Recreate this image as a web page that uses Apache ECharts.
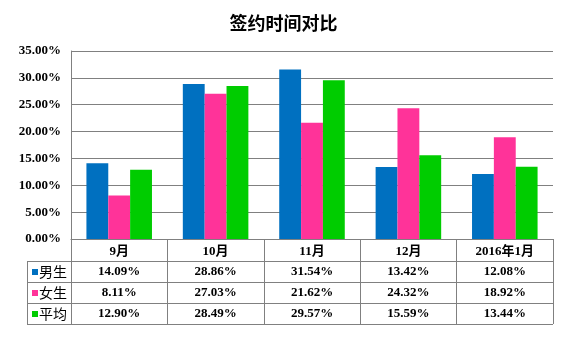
<!DOCTYPE html>
<html>
<head>
<meta charset="utf-8">
<script src="https://cdn.jsdelivr.net/npm/echarts@6/dist/echarts.min.js"></script>
<style>
  html, body { margin: 0; padding: 0; background: #fff; }
  #chart { width: 567px; height: 341px; }
</style>
</head>
<body>
<div id="chart"></div>
<script>
// Signing time by month, percentage per group
const categories = ['9月', '10月', '11月', '12月', '2016年1月'];
const seriesNames = ['男生', '女生', '平均'];
const male = [14.09, 28.86, 31.54, 13.42, 12.08];
const female = [8.11, 27.03, 21.62, 24.32, 18.92];
const average = [12.90, 28.49, 29.57, 15.59, 13.44];
const colors = ['#0070C0', '#FF3399', '#00CC00'];
const yTicks = { min: 0, max: 35, interval: 5 };

const seriesData = [male, female, average];
const numFont = '"Liberation Serif", "Times New Roman", "Noto Sans CJK SC", serif';
const gridColor = '#808080';
const fmt = v => v.toFixed(2) + '%';

const chart = echarts.init(document.getElementById('chart'));

const grid = { left: 71, right: 14, top: 51, bottom: 102 };
const headerH = 22;
const rowH = 21;

chart.setOption({
  animation: false,
  backgroundColor: '#fff',
  title: {
    text: '签约时间对比',
    left: 'center',
    top: 9,
    textStyle: { fontFamily: '"Noto Sans CJK SC", sans-serif', fontSize: 18, fontWeight: 'bold', color: '#000' }
  },
  grid: grid,
  xAxis: {
    type: 'category',
    data: categories,
    axisLine: { lineStyle: { color: gridColor, width: 1 } },
    axisTick: { show: true, length: headerH + rowH * 3, interval: 0, lineStyle: { color: gridColor } },
    axisLabel: {
      interval: 0,
      margin: 6,
      fontFamily: numFont, fontSize: 13, fontWeight: 'bold', color: '#000'
    }
  },
  yAxis: {
    type: 'value',
    min: yTicks.min, max: yTicks.max, interval: yTicks.interval,
    axisLine: { show: true, lineStyle: { color: gridColor, width: 1 } },
    axisTick: { show: false },
    splitLine: { lineStyle: { color: gridColor, width: 1 } },
    axisLabel: {
      margin: 10,
      formatter: v => fmt(v),
      fontFamily: numFont, fontSize: 13, fontWeight: 'bold', color: '#000'
    }
  },
  series: seriesNames.map((name, i) => ({
    name: name,
    type: 'bar',
    data: seriesData[i],
    itemStyle: { color: colors[i] },
    barGap: '0%',
    barCategoryGap: '32%'
  }))
});

// Data table under the category axis
function drawTable() {
  const left = grid.left;
  const right = 567 - grid.right;
  const axisY = 341 - grid.bottom;
  const tableLeft = 27;
  const elements = [];
  const lineStyle = { stroke: gridColor, lineWidth: 1 };

  for (let r = 0; r <= 3; r++) {
    const y = axisY + headerH + rowH * r + 0.5;
    elements.push({ type: 'line', shape: { x1: tableLeft, y1: y, x2: right, y2: y }, style: lineStyle, silent: true });
  }
  elements.push({ type: 'line', shape: { x1: tableLeft + 0.5, y1: axisY + headerH, x2: tableLeft + 0.5, y2: axisY + headerH + rowH * 3 }, style: lineStyle, silent: true });

  seriesNames.forEach((name, r) => {
    const cy = axisY + headerH + rowH * r + rowH / 2 + 0.5;
    elements.push({ type: 'rect', shape: { x: 32, y: cy - 3, width: 6, height: 6 }, style: { fill: colors[r] }, silent: true });
    elements.push({
      type: 'text', x: 39, y: cy,
      style: { text: name, fontFamily: '"Noto Sans CJK SC", sans-serif', fontSize: 14, fill: '#000', verticalAlign: 'middle', align: 'left' },
      silent: true
    });
    seriesData[r].forEach((v, c) => {
      const cx = chart.convertToPixel({ xAxisIndex: 0 }, c);
      elements.push({
        type: 'text', x: cx, y: cy,
        style: { text: fmt(v), fontFamily: numFont, fontSize: 13, fontWeight: 'bold', fill: '#000', align: 'center', verticalAlign: 'middle' },
        silent: true
      });
    });
  });

  chart.setOption({ graphic: { elements: elements } });
}
drawTable();
</script>
</body>
</html>
